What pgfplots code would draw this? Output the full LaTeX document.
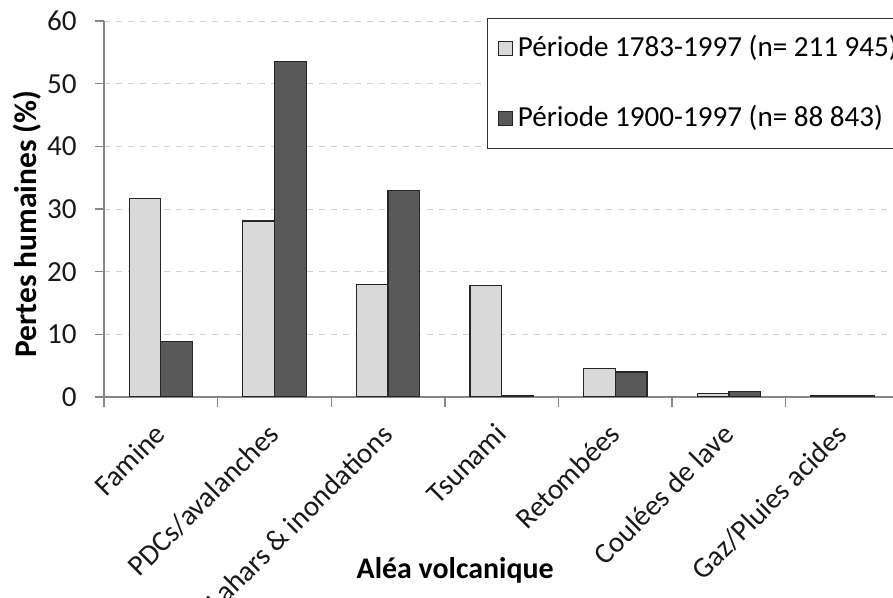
\documentclass[border=0pt]{standalone}
\usepackage{fontspec}
\setmainfont{Carlito}
\usepackage{pgfplots}
\pgfplotsset{compat=1.18}
\definecolor{lightbar}{HTML}{D9D9D9}
\definecolor{darkbar}{HTML}{595959}
\definecolor{axisgray}{HTML}{868686}
\begin{document}
\begin{tikzpicture}[x=1bp,y=1bp]
\begin{axis}[
  at={(52bp,100.5bp)}, anchor=south west,
  scale only axis, width=397.7bp, height=188bp,
  xmin=-0.5, xmax=6.5, ymin=0, ymax=60,
  ybar, bar width=15.85bp,
  axis x line*=bottom, axis y line*=left,
  axis line style={axisgray, line width=0.7bp},
  ytick={0,10,...,60},
  xtick={0,...,6},
  xticklabels={Famine,PDCs/avalanches,Lahars \& inondations,Tsunami,Retombées,Coulées de lave,Gaz/Pluies acides},
  major x tick style={draw=none},
  minor xtick={-0.5,0.5,...,6.5},
  tick align=outside,
  major tick length=4.5bp, minor tick length=5bp,
  tick style={axisgray, line width=0.7bp},
  ymajorgrids, grid style={dashed, black!18, line width=0.5bp},
  /pgf/number format/assume math mode=true,
  tick label style={font=\fontsize{14.6}{16}\selectfont, text=black!90},
  xticklabel style={rotate=45, anchor=north east, inner sep=1bp, xshift=-7.25bp, yshift=-1.65bp},
  yticklabel style={inner sep=1bp, xshift=-8bp},
  xlabel={Aléa volcanique},
  ylabel={Pertes humaines (\%)},
  xlabel style={font=\bfseries\fontsize{15}{17}\selectfont, at={(axis description cs:0.4415,-0.46)}, anchor=center},
  ylabel style={font=\bfseries\fontsize{15.8}{17}\selectfont, at={(axis description cs:-0.0969,0.46)}, anchor=center},
  legend style={at={(axis description cs:0.4818,1.008)}, anchor=north west,
    draw=black!80, line width=0.6bp, inner xsep=5bp, inner ysep=7.75bp,
    row sep=20.5bp, column sep=2.5bp,
    font=\fontsize{14.6}{16}\selectfont,
    nodes={inner sep=0bp, text height=11bp, text depth=3.5bp}},
  legend cell align=left,
  legend image code/.code={\draw[#1, line width=0.5bp] (0bp,-3.5bp) rectangle (7bp,3.5bp);},
]
\addplot[fill=lightbar, draw=black!85, line width=0.6bp, bar shift=-7.925bp]
  coordinates {(0,31.7) (1,28.1) (2,18.0) (3,17.75) (4,4.5) (5,0.5) (6,0.3)};
\addplot[fill=darkbar, draw=black!85, line width=0.6bp, bar shift=7.925bp]
  coordinates {(0,8.8) (1,53.6) (2,32.9) (3,0.25) (4,4.0) (5,0.85) (6,0.3)};
\legend{Période 1783-1997 (n= 211 945),Période 1900-1997 (n= 88 843)}
\end{axis}
\pgfresetboundingbox
\useasboundingbox (0,0) rectangle (446.5bp,299bp);
\end{tikzpicture}
\end{document}
